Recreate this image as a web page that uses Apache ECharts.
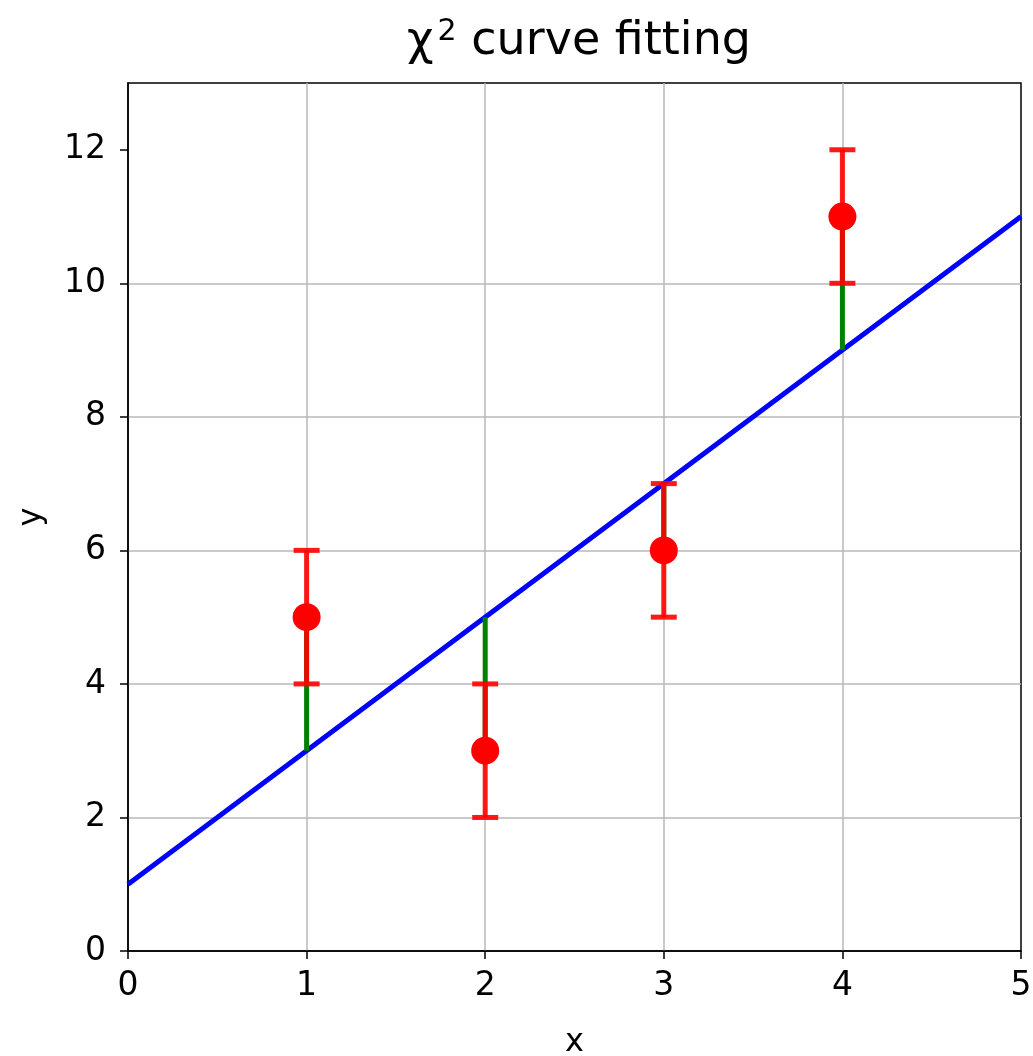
<!DOCTYPE html>
<html>
<head>
<meta charset="utf-8">
<script src="https://cdn.jsdelivr.net/npm/echarts@6/dist/echarts.min.js"></script>
<style>
  html, body { margin: 0; padding: 0; background: #fff; }
  #chart { width: 1033px; height: 1056px; }
</style>
</head>
<body>
<div id="chart"></div>
<script>
/* data */
const xs = [1, 2, 3, 4];
const ys = [5, 3, 6, 11];
const yErr = [1, 1, 1, 1];
const fitAtX = [3, 5, 7, 9];        // fitted line value at each data x
const fitX = [0, 5];
const fitY = [1, 11];
const yTicks = [0, 2, 4, 6, 8, 10, 12];

const FONT = "'DejaVu Sans', sans-serif";

const chart = echarts.init(document.getElementById("chart"));

// vertical segment with optional caps
function segItem(color, width, withCaps) {
  return function (params, api) {
    const x = api.value(0);
    const lo = api.coord([x, api.value(1)]);
    const hi = api.coord([x, api.value(2)]);
    const style = { stroke: color, lineWidth: width, fill: null };
    const children = [{
      type: "line",
      shape: { x1: lo[0], y1: lo[1], x2: hi[0], y2: hi[1] },
      style: style
    }];
    if (withCaps) {
      [lo, hi].forEach(p => {
        children.push({
          type: "line",
          shape: { x1: p[0] - 13, y1: p[1], x2: p[0] + 13, y2: p[1] },
          style: style
        });
      });
    }
    return { type: "group", children: children };
  };
}

const residData = xs.map((x, i) => [x, fitAtX[i], ys[i]]);
const errData = xs.map((x, i) => [x, ys[i] - yErr[i], ys[i] + yErr[i]]);

chart.setOption({
  animation: false,
  backgroundColor: "#fff",
  title: {
    text: "χ{sup|2} curve fitting",
    left: 574, top: 12, textAlign: "center",
    textStyle: {
      fontFamily: FONT, fontSize: 46, fontWeight: "normal", color: "#000",
      rich: { sup: { fontFamily: FONT, fontSize: 30, color: "#000", verticalAlign: "top", padding: [0, 0, 20, 4] } }
    }
  },
  grid: {
    left: 128, right: 12, top: 83, bottom: 105,
    outerBoundsMode: "none",
    show: true, borderColor: "#000", borderWidth: 1.5, backgroundColor: "transparent"
  },
  xAxis: {
    type: "value", min: 0, max: 5, interval: 1,
    name: "x", nameLocation: "middle", nameGap: 76,
    nameTextStyle: { fontFamily: FONT, fontSize: 32, color: "#000" },
    axisLine: { show: true, onZero: false, lineStyle: { color: "#000", width: 1.5 } },
    axisTick: { show: true, inside: false, length: 8, lineStyle: { color: "#000", width: 1.5 } },
    axisLabel: { fontFamily: FONT, fontSize: 33, color: "#000", margin: 19 },
    splitLine: { show: true, showMinLine: false, showMaxLine: false, lineStyle: { color: "#b8b8b8", width: 1.5 } }
  },
  yAxis: {
    type: "value", min: 0, max: 13, interval: 2,
    name: "y", nameLocation: "middle", nameGap: 80, nameRotate: 90,
    nameTextStyle: { fontFamily: FONT, fontSize: 32, color: "#000" },
    axisLine: { show: true, onZero: false, lineStyle: { color: "#000", width: 1.5 } },
    axisTick: { show: true, inside: false, length: 8, customValues: yTicks, lineStyle: { color: "#000", width: 1.5 } },
    axisLabel: { fontFamily: FONT, fontSize: 33, color: "#000", margin: 22, customValues: yTicks },
    splitLine: { show: true, showMinLine: false, showMaxLine: false, lineStyle: { color: "#b8b8b8", width: 1.5 } }
  },
  series: [
    {
      type: "line",
      data: fitX.map((x, i) => [x, fitY[i]]),
      symbol: "none",
      lineStyle: { color: "#0000ff", width: 5 },
      z: 2
    },
    {
      type: "custom",
      data: residData,
      renderItem: segItem("#008000", 5, false),
      z: 3
    },
    {
      type: "custom",
      data: errData,
      renderItem: segItem("rgba(255,0,0,0.9)", 5, true),
      z: 4
    },
    {
      type: "scatter",
      data: xs.map((x, i) => [x, ys[i]]),
      symbol: "circle",
      symbolSize: 28,
      itemStyle: { color: "#ff0000", opacity: 1 },
      z: 5
    }
  ]
});
</script>
</body>
</html>
